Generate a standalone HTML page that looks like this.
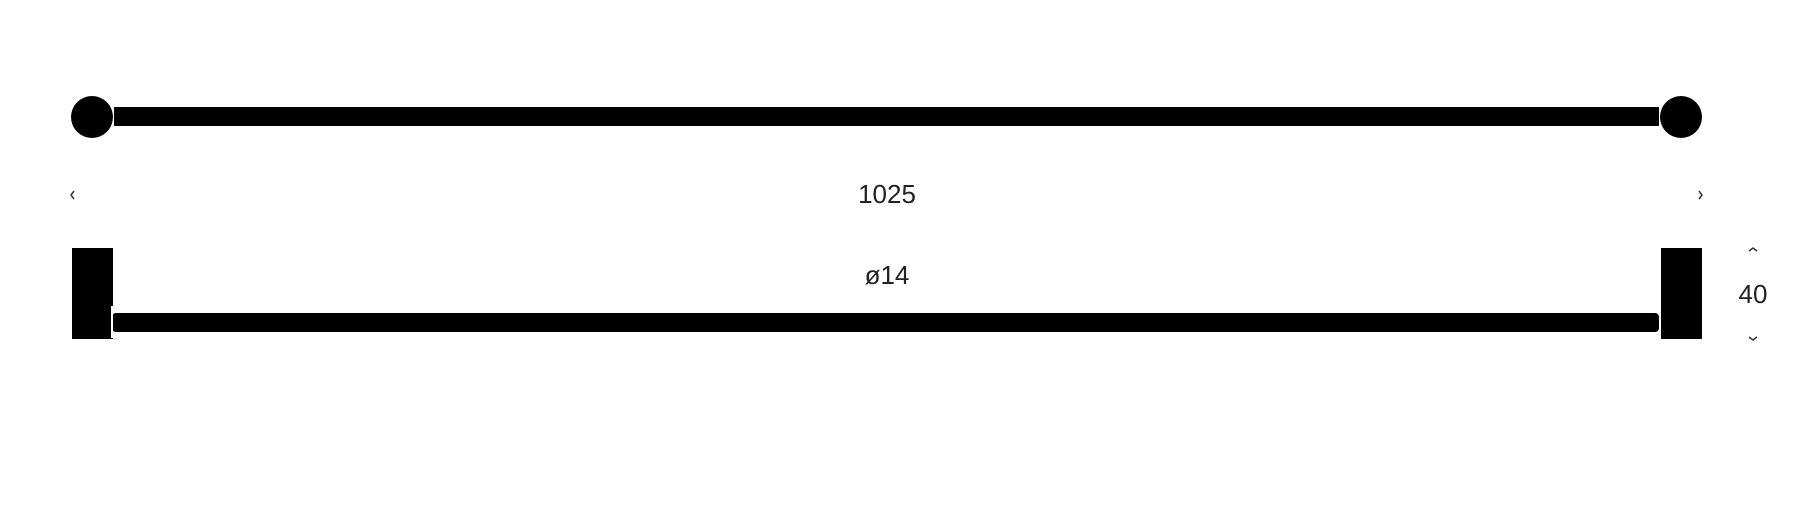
<!DOCTYPE html>
<html><head><style>
html,body{margin:0;padding:0;background:#fff;}
body{width:1800px;height:515px;position:relative;overflow:hidden;font-family:"Liberation Sans",sans-serif;}
</style></head><body>
<svg width="1800" height="515" xmlns="http://www.w3.org/2000/svg">
<rect x="114" y="107" width="1545" height="19" fill="#000"/>
<circle cx="92" cy="117" r="21" fill="#000"/>
<circle cx="1681" cy="117" r="21" fill="#000"/>
<rect x="72" y="248" width="41" height="91" fill="#000"/>
<rect x="1661" y="248" width="41" height="91" fill="#000"/>
<rect x="112" y="313" width="1547" height="19" rx="4" fill="#000"/>
<line x1="112" y1="306" x2="112" y2="338" stroke="#fff" stroke-width="2"/>
<line x1="1660" y1="306" x2="1660" y2="338" stroke="#fff" stroke-width="2"/>
<text x="887" y="203" font-size="26" text-anchor="middle" fill="#222" font-family="Liberation Sans, sans-serif">1025</text>
<text x="887" y="284" font-size="26" text-anchor="middle" fill="#222" font-family="Liberation Sans, sans-serif">ø14</text>
<text x="1753" y="303" font-size="26" text-anchor="middle" fill="#222" font-family="Liberation Sans, sans-serif">40</text>
<path d="M74 191 L71 195 L74 199" stroke="#333" stroke-width="1.5" fill="none"/>
<path d="M1699 191 L1702 195 L1699 199" stroke="#333" stroke-width="1.5" fill="none"/>
<path d="M1749 251 L1753 248 L1757 251" stroke="#333" stroke-width="1.5" fill="none"/>
<path d="M1749 337 L1753 340 L1757 337" stroke="#333" stroke-width="1.5" fill="none"/>
</svg>
</body></html>
